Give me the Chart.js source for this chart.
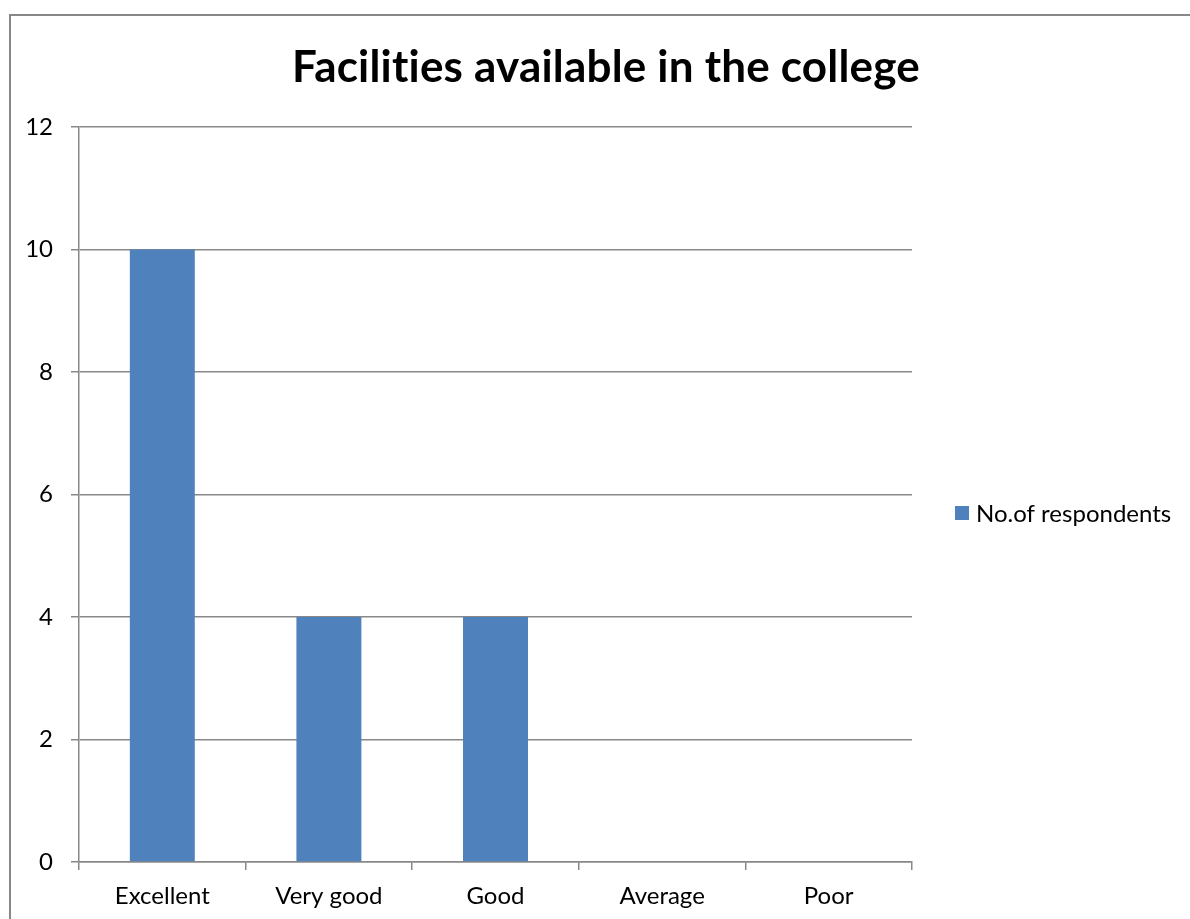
<!DOCTYPE html>
<html>
<head>
<meta charset="utf-8">
<script src="https://cdn.jsdelivr.net/npm/chart.js@4"></script>
<style>
  html, body { margin: 0; padding: 0; background: #fff; }
  #wrap { position: absolute; left: 0; top: 0; width: 1190px; height: 919px; }
</style>
</head>
<body>
<div id="wrap"><canvas id="c" width="1190" height="919"></canvas></div>
<script>
const categories = ["Excellent", "Very good", "Good", "Average", "Poor"];
const seriesName = "No.of respondents";
const values = [10, 4, 4, 0, 0];
const yTicks = [0, 2, 4, 6, 8, 10, 12];
const titleText = "Facilities available in the college";

const FONT = "Lato, 'Open Sans', sans-serif";
const BAR = "#4F81BD";
const GRID = "#888888";

const frame = {
  id: 'frame',
  beforeDraw(chart) {
    const ctx = chart.ctx;
    ctx.save();
    ctx.fillStyle = '#fff';
    ctx.fillRect(0, 0, chart.width, chart.height);
    ctx.strokeStyle = GRID;
    ctx.lineWidth = 2;
    ctx.beginPath();
    ctx.moveTo(10, chart.height + 5);
    ctx.lineTo(10, 15);
    ctx.lineTo(chart.width + 5, 15);
    ctx.stroke();
    ctx.restore();
  }
};

const headline = {
  id: 'headline',
  afterDraw(chart) {
    const ctx = chart.ctx;
    ctx.save();
    ctx.fillStyle = '#000';
    ctx.font = "bold 44px " + FONT;
    if ('letterSpacing' in ctx) ctx.letterSpacing = '0.2px';
    ctx.textAlign = 'center';
    ctx.textBaseline = 'alphabetic';
    ctx.fillText(titleText, 606, 82);
    ctx.restore();
  }
};

const sideLegend = {
  id: 'sideLegend',
  afterDraw(chart) {
    const ctx = chart.ctx;
    const ds = chart.data.datasets[0];
    ctx.save();
    const x = 955, y = 513;
    ctx.fillStyle = ds.backgroundColor;
    ctx.fillRect(x, y - 7, 14, 14);
    ctx.fillStyle = '#000';
    ctx.font = "24px " + FONT;
    ctx.textBaseline = 'middle';
    ctx.textAlign = 'left';
    ctx.fillText(ds.label, x + 21, y + 1);
    ctx.restore();
  }
};

new Chart(document.getElementById('c'), {
  type: 'bar',
  data: {
    labels: categories,
    datasets: [{
      label: seriesName,
      data: values,
      backgroundColor: BAR,
      borderWidth: 0,
      categoryPercentage: 1,
      barPercentage: 0.39
    }]
  },
  options: {
    responsive: false,
    animation: false,
    devicePixelRatio: 1,
    layout: { padding: { left: 0, right: 278, top: 127, bottom: 0 } },
    plugins: {
      legend: { display: false },
      tooltip: { enabled: false },
      title: { display: false }
    },
    scales: {
      x: {
        offset: true,
        grid: { display: true, drawOnChartArea: false, drawTicks: true, tickLength: 8, offset: true, color: GRID, lineWidth: 1.5 },
        border: { display: true, color: GRID, width: 1.5 },
        ticks: { color: '#000', font: { family: FONT, size: 24 }, padding: 12, maxRotation: 0 },
        afterFit(s) { s.height = 57; }
      },
      y: {
        min: 0, max: 12,
        afterBuildTicks(s) { s.ticks = yTicks.map(v => ({ value: v })); },
        grid: { color: GRID, lineWidth: 1.5, drawTicks: true, tickLength: 8 },
        border: { display: true, color: GRID, width: 1.5 },
        ticks: { color: '#000', font: { family: FONT, size: 24 }, padding: 18 },
        afterFit(s) { s.width = 79; }
      }
    }
  },
  plugins: [frame, headline, sideLegend]
});
</script>
</body>
</html>
